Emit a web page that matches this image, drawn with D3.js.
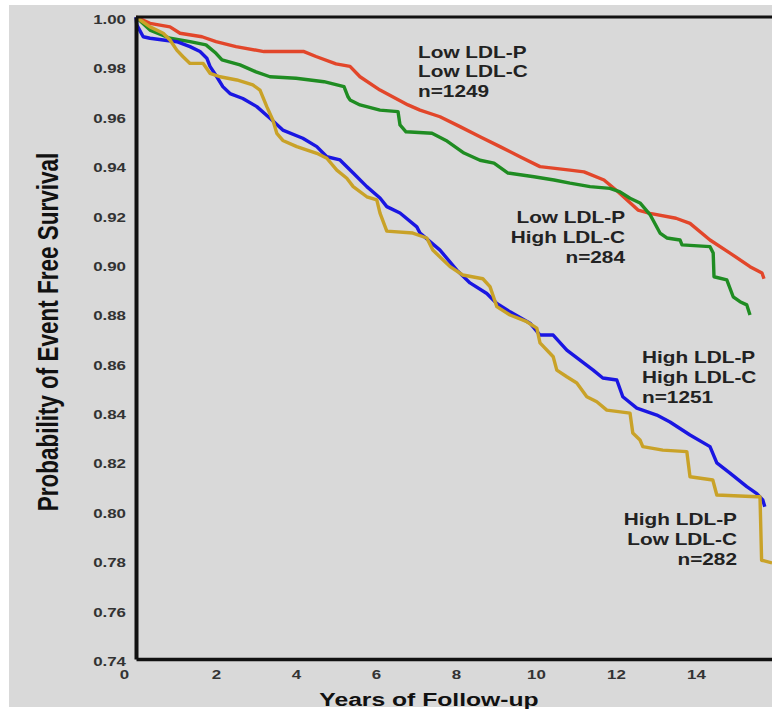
<!DOCTYPE html>
<html>
<head>
<meta charset="utf-8">
<script src="https://cdn.jsdelivr.net/npm/d3@7"></script>
<style>
  html, body { margin: 0; padding: 0; background: #fff; }
  svg { display: block; }
  text { font-family: "Liberation Sans", Arial, sans-serif; font-weight: bold; }
</style>
</head>
<body>
<svg id="chart"></svg>
<script>
(function () {
  'use strict';

  // [years, survival]
  const lowPLowC = [
    [0, 1.0], [0.35, 0.9974], [0.85, 0.996], [1.1, 0.9934], [1.65, 0.992], [2.0, 0.990],
    [2.5, 0.988], [3.2, 0.986], [4.2, 0.986], [4.5, 0.984], [5.0, 0.981], [5.35, 0.980],
    [5.6, 0.9758], [6.1, 0.9704], [6.8, 0.9644], [7.1, 0.9623], [7.6, 0.9596], [8.1, 0.9556],
    [8.6, 0.9515], [9.1, 0.9475], [9.6, 0.9434], [10.1, 0.9394], [10.85, 0.938], [11.2, 0.9373],
    [11.7, 0.934], [12.05, 0.9292], [12.55, 0.9218], [12.85, 0.9205], [13.5, 0.9185],
    [13.85, 0.9164], [14.35, 0.9097], [14.85, 0.9044], [15.35, 0.8989], [15.65, 0.8963], [15.7, 0.894]
  ];
  const lowPHighC = [
    [0, 1.0], [0.35, 0.9947], [0.85, 0.9914], [1.35, 0.990], [1.75, 0.9887], [2.0, 0.9853],
    [2.15, 0.9826], [2.6, 0.9806], [3.0, 0.9778], [3.35, 0.9758], [4.0, 0.9752], [4.7, 0.9738],
    [5.2, 0.9718], [5.3, 0.9677], [5.35, 0.9664], [5.6, 0.9644], [6.1, 0.9623], [6.55, 0.9617],
    [6.6, 0.9563], [6.75, 0.9535], [7.4, 0.9529], [7.75, 0.950], [8.2, 0.9449], [8.6, 0.942],
    [8.95, 0.9408], [9.3, 0.9368], [9.95, 0.9353], [10.45, 0.934], [10.85, 0.9327], [11.35, 0.9313],
    [11.85, 0.9306], [12.1, 0.9292], [12.35, 0.9266], [12.6, 0.9247], [12.85, 0.920], [13.1, 0.9125],
    [13.27, 0.9105], [13.6, 0.9097], [13.65, 0.9077], [14.35, 0.907], [14.43, 0.9044],
    [14.45, 0.8948], [14.77, 0.8935], [14.93, 0.8867], [15.1, 0.8847], [15.27, 0.8834], [15.35, 0.8793]
  ];
  const highPHighC = [
    [0, 1.0], [0.02, 0.9968], [0.18, 0.992], [0.35, 0.9914], [0.68, 0.9907], [1.02, 0.990],
    [1.35, 0.988], [1.6, 0.986], [1.77, 0.9833], [1.85, 0.980], [2.02, 0.9758], [2.17, 0.9718],
    [2.35, 0.969], [2.67, 0.967], [3.02, 0.9637], [3.35, 0.959], [3.67, 0.9542], [4.17, 0.9509],
    [4.52, 0.9475], [4.77, 0.9434], [5.1, 0.9421], [5.43, 0.9368], [5.77, 0.9313], [6.1, 0.9267],
    [6.27, 0.9232], [6.6, 0.9206], [7.02, 0.915], [7.1, 0.9125], [7.6, 0.9056], [8.02, 0.8975],
    [8.35, 0.8923], [8.77, 0.888], [9.02, 0.884], [9.35, 0.8806], [9.85, 0.876], [10.1, 0.8712],
    [10.43, 0.8712], [10.77, 0.8651], [11.1, 0.861], [11.43, 0.857], [11.67, 0.8538], [12.02, 0.853],
    [12.17, 0.8462], [12.52, 0.8416], [13.02, 0.8388], [13.35, 0.836], [13.85, 0.8307], [14.35, 0.826],
    [14.52, 0.8194], [14.85, 0.8153], [15.27, 0.8098], [15.52, 0.807], [15.67, 0.8044], [15.72, 0.8017]
  ];
  const highPLowC = [
    [0, 1.0], [0.35, 0.996], [0.68, 0.9934], [0.85, 0.9907], [1.02, 0.9866], [1.17, 0.984],
    [1.35, 0.9812], [1.68, 0.9812], [1.85, 0.9772], [2.1, 0.9758], [2.52, 0.9745], [2.92, 0.9725],
    [3.1, 0.9704], [3.27, 0.9637], [3.42, 0.9583], [3.52, 0.9529], [3.67, 0.950], [4.02, 0.9475],
    [4.52, 0.9448], [4.77, 0.9428], [5.02, 0.938], [5.27, 0.9347], [5.43, 0.9313], [5.77, 0.9272],
    [6.02, 0.9259], [6.1, 0.9206], [6.27, 0.9133], [6.92, 0.9125], [7.27, 0.9105], [7.42, 0.9056],
    [7.85, 0.8989], [8.17, 0.8955], [8.67, 0.894], [8.85, 0.8908], [9.02, 0.8827], [9.35, 0.8793],
    [9.77, 0.8766], [10.02, 0.874], [10.1, 0.868], [10.43, 0.8624], [10.52, 0.857], [10.77, 0.8543],
    [11.02, 0.8518], [11.27, 0.8462], [11.52, 0.8442], [11.77, 0.8408], [12.35, 0.8396], [12.42, 0.8315],
    [12.6, 0.8287], [12.67, 0.826], [13.17, 0.8246], [13.77, 0.824], [13.85, 0.8138], [14.42, 0.8125],
    [14.52, 0.8064], [15.52, 0.8057], [15.6, 0.8057], [15.64, 0.78], [15.9, 0.7789]
  ];

  const xTicks = [0, 2, 4, 6, 8, 10, 12, 14];
  const yTicks = [0.74, 0.76, 0.78, 0.80, 0.82, 0.84, 0.86, 0.88, 0.90, 0.92, 0.94, 0.96, 0.98, 1.00];

  const series = [
    { data: lowPLowC, color: "#e2462a", label: ["Low LDL-P", "Low LDL-C", "n=1249"], x: 418, y: 57.5, anchor: "start" },
    { data: lowPHighC, color: "#1f8c22", label: ["Low LDL-P", "High LDL-C", "n=284"], x: 625, y: 223, anchor: "end" },
    { data: highPHighC, color: "#1a16e2", label: ["High LDL-P", "High LDL-C", "n=1251"], x: 642, y: 363, anchor: "start" },
    { data: highPLowC, color: "#c9a228", label: ["High LDL-P", "Low LDL-C", "n=282"], x: 737, y: 525, anchor: "end" }
  ];

  const W = 772, H = 709;
  const SX = 1.3; // the source picture is stretched sideways

  const svg = d3.select("#chart").attr("width", W).attr("height", H);

  svg.append("rect")
    .attr("x", 9).attr("y", 5)
    .attr("width", W - 9).attr("height", 702)
    .attr("fill", "#d9d9d9");

  const x = d3.scaleLinear().domain([0, 16]).range([136, 776]);
  const y = d3.scaleLinear().domain([0.74, 1.0]).range([659, 17]);

  const line = d3.line()
    .x(d => x(d[0]))
    .y(d => y(d[1]));

  series.forEach(s => {
    svg.append("path")
      .datum(s.data)
      .attr("fill", "none")
      .attr("stroke", s.color)
      .attr("stroke-width", 3.4)
      .attr("stroke-linejoin", "round")
      .attr("d", line);
  });

  // frame top
  svg.append("line")
    .attr("x1", x(0)).attr("x2", W)
    .attr("y1", y(1.0)).attr("y2", y(1.0))
    .attr("stroke", "#111").attr("stroke-width", 3);

  const yAxis = svg.append("g")
    .attr("transform", `translate(${x(0)},0)`)
    .call(d3.axisLeft(y).tickValues(yTicks).tickFormat(d3.format(".2f")).tickSize(0));
  yAxis.select(".domain").attr("stroke", "#111").attr("stroke-width", 4);
  yAxis.selectAll(".tick text")
    .attr("x", -10 / SX)
    .attr("dy", "0.5em")
    .attr("transform", `scale(${SX},1)`)
    .attr("fill", "#333")
    .style("font-size", "13px");

  const xAxis = svg.append("g")
    .attr("transform", `translate(0,${y(0.74)})`)
    .call(d3.axisBottom(x).tickValues(xTicks).tickSize(0));
  xAxis.select(".domain").attr("stroke", "#111").attr("stroke-width", 3.5);
  xAxis.selectAll(".tick text")
    .attr("y", 20)
    .attr("dy", 0)
    .attr("x", d => d === 0 ? -12 / SX : 0)
    .attr("transform", `scale(${SX},1)`)
    .attr("fill", "#333")
    .style("font-size", "13px");

  // curve labels
  series.forEach(s => {
    s.label.forEach((t, i) => {
      svg.append("text")
        .attr("transform", `translate(${s.x},${s.y + i * 19.8}) scale(${SX},1)`)
        .attr("text-anchor", s.anchor)
        .attr("fill", "#222")
        .style("font-size", "16px")
        .text(t);
    });
  });

  svg.append("text")
    .attr("transform", `translate(429,706) scale(${SX},1)`)
    .attr("text-anchor", "middle")
    .attr("fill", "#111")
    .style("font-size", "19px")
    .text("Years of Follow-up");

  svg.append("text")
    .attr("transform", `translate(58,332) rotate(-90) scale(1,${SX})`)
    .attr("text-anchor", "middle")
    .attr("fill", "#111")
    .style("font-size", "22.5px")
    .text("Probability of Event Free Survival");
})();
</script>
</body>
</html>
